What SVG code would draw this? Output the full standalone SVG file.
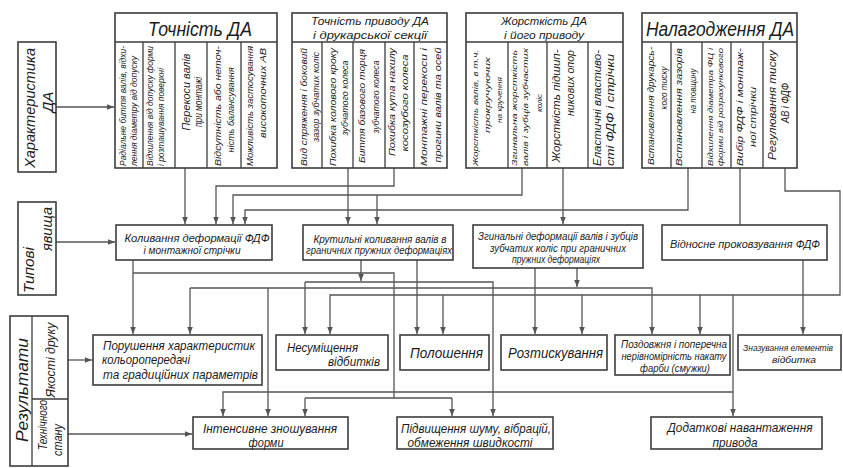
<svg xmlns="http://www.w3.org/2000/svg" width="843" height="468" viewBox="0 0 843 468">
<style>
.box{fill:#fff;stroke:#3c3c3c;stroke-width:1.6}
.sep{fill:none;stroke:#3c3c3c;stroke-width:1.3}
.ln{fill:none;stroke:#555;stroke-width:1.3}
.a{marker-end:url(#ar)}
text{font-family:"Liberation Sans",Arial,sans-serif;font-style:italic;fill:#1c1c1c}
.m{text-anchor:middle}
.v{text-anchor:middle}
.s8{font-size:8.5px}
.s9{font-size:9.5px}
.s10{font-size:10px}
.s11{font-size:11px}
.s13{font-size:13px}
.s14{font-size:14px}
</style>
<defs>
<marker id="ar" markerWidth="8" markerHeight="8" refX="7" refY="4" orient="auto" markerUnits="userSpaceOnUse">
<path d="M0,1.2 L7,4 L0,6.8 z" fill="#555"/>
</marker>
</defs>
<rect width="843" height="468" fill="#fff"/>

<g id="connectors">
<path class="ln a" d="M56,107 H114"/>
<path class="ln a" d="M56,242 H115"/>
<path class="ln a" d="M68,360 H92"/>
<path class="ln a" d="M68,434 H192"/>
<path class="ln a" d="M185,168 V224"/>
<path class="ln a" d="M394,168 V186 H216 V224"/>
<path class="ln a" d="M522,168 V195 H233 V224"/>
<path class="ln a" d="M377,195 V224"/>
<path class="ln a" d="M688,168 V210 H245 V224"/>
<path class="ln a" d="M348,168 V224"/>
<path class="ln a" d="M563,168 V224"/>
<path class="ln" d="M740,168 V225"/>
<path class="ln a" d="M785,168 V191 H840 V295 H330 V334"/>
<path class="ln a" d="M443,295 V334"/>
<path class="ln a" d="M582,295 V334"/>
<path class="ln a" d="M700,295 V334"/>
<path class="ln a" d="M733,295 V416"/>
<path class="ln a" d="M733,392 H223 V416"/>
<path class="ln a" d="M133,260 V334"/>
<path class="ln" d="M133,273 H394 V398"/>
<path class="ln" d="M305,398 H452"/>
<path class="ln a" d="M305,398 V416"/>
<path class="ln a" d="M452,398 V416"/>
<path class="ln a" d="M361,260 V281"/>
<path class="ln a" d="M305,282 H493 V416"/>
<path class="ln a" d="M305,282 V334"/>
<path class="ln a" d="M417,260 V334"/>
<path class="ln a" d="M577,268 V287"/>
<path class="ln a" d="M190,288 H652 V334"/>
<path class="ln a" d="M190,288 V334"/>
<path class="ln a" d="M268,288 V416"/>
<path class="ln a" d="M535,268 V334"/>
<path class="ln a" d="M803,260 V334"/>
</g>

<g id="label-characteristic">
<rect class="box" x="18" y="42" width="38" height="130"/>
<text class="v" font-size="15" transform="translate(35,108) rotate(-90)" textLength="120" lengthAdjust="spacingAndGlyphs">Характеристика</text>
<text class="v" font-size="15" transform="translate(53,102) rotate(-90)">ДА</text>
</g>

<g id="label-phenomena">
<rect class="box" x="18" y="202" width="38" height="93"/>
<text class="v" font-size="14" transform="translate(34,270) rotate(-90)" textLength="46" lengthAdjust="spacingAndGlyphs">Типові</text>
<text class="v" font-size="14" transform="translate(52,229) rotate(-90)" textLength="44" lengthAdjust="spacingAndGlyphs">явища</text>
</g>

<g id="label-results">
<rect class="box" x="10" y="316" width="58" height="150"/>
<path class="sep" d="M32,316 V466 M32,399 H68"/>
<text class="v" font-size="17" transform="translate(28,390) rotate(-90)" textLength="104" lengthAdjust="spacingAndGlyphs">Результати</text>
<text class="v" font-size="12" transform="translate(55,360) rotate(-90)" textLength="75" lengthAdjust="spacingAndGlyphs">Якості друку</text>
<text class="v" font-size="12.5" transform="translate(47,425) rotate(-90)" textLength="50" lengthAdjust="spacingAndGlyphs">Технічного</text>
<text class="v" font-size="12.5" transform="translate(62,440) rotate(-90)" textLength="32" lengthAdjust="spacingAndGlyphs">стану</text>
</g>

<g id="accuracy-da">
<rect class="box" x="115" y="13" width="162" height="155"/>
<path class="sep" d="M115,42 H277 M143,42 V168 M175,42 V168 M207,42 V168 M241,42 V168"/>
<text class="m" x="200" y="36" font-size="20" textLength="104" lengthAdjust="spacingAndGlyphs">Точність ДА</text>
<text class="v s8" transform="translate(126,106) rotate(-90)" textLength="120" lengthAdjust="spacingAndGlyphs">Радіальне биття валів, відхи-</text>
<text class="v s8" transform="translate(137,111) rotate(-90)" textLength="110" lengthAdjust="spacingAndGlyphs">лення діаметру від допуску</text>
<text class="v s8" transform="translate(153,106) rotate(-90)" textLength="120" lengthAdjust="spacingAndGlyphs">Відхилення від допуску форми</text>
<text class="v s8" transform="translate(164,117) rotate(-90)" textLength="98" lengthAdjust="spacingAndGlyphs">і розташування поверхні</text>
<text class="v s10" transform="translate(190,92) rotate(-90)" textLength="77" lengthAdjust="spacingAndGlyphs">Перекоси валів</text>
<text class="v s10" transform="translate(202,102) rotate(-90)" textLength="50" lengthAdjust="spacingAndGlyphs">при монтажі</text>
<text class="v s9" transform="translate(221,106) rotate(-90)" textLength="120" lengthAdjust="spacingAndGlyphs">Відсутність або неточ-</text>
<text class="v s9" transform="translate(234,110) rotate(-90)" textLength="85" lengthAdjust="spacingAndGlyphs">ність балансування</text>
<text class="v s9" transform="translate(253,106) rotate(-90)" textLength="120" lengthAdjust="spacingAndGlyphs">Можливість застосування</text>
<text class="v s9" transform="translate(266,93) rotate(-90)" textLength="90" lengthAdjust="spacingAndGlyphs">високоточних АВ</text>
</g>

<g id="accuracy-drive">
<rect class="box" x="292" y="13" width="155" height="155"/>
<path class="sep" d="M292,42 H447 M322,42 V168 M353,42 V168 M385,42 V168 M414,42 V168"/>
<text class="m" x="370" y="25" font-size="11.5" textLength="118" lengthAdjust="spacingAndGlyphs">Точність приводу ДА</text>
<text class="m" x="370" y="38.5" font-size="11.5" textLength="114" lengthAdjust="spacingAndGlyphs">і друкарської секції</text>
<text class="v s9" transform="translate(307,107) rotate(-90)" textLength="118" lengthAdjust="spacingAndGlyphs">Вид спряження і боковий</text>
<text class="v s9" transform="translate(319,97) rotate(-90)" textLength="90" lengthAdjust="spacingAndGlyphs">зазор зубчатих коліс</text>
<text class="v s9" transform="translate(336,107) rotate(-90)" textLength="118" lengthAdjust="spacingAndGlyphs">Похибка колового кроку</text>
<text class="v s9" transform="translate(348,98) rotate(-90)" textLength="75" lengthAdjust="spacingAndGlyphs">зубчатого колеса</text>
<text class="v s9" transform="translate(365,106) rotate(-90)" textLength="114" lengthAdjust="spacingAndGlyphs">Биття базового торця</text>
<text class="v s9" transform="translate(379,97) rotate(-90)" textLength="73" lengthAdjust="spacingAndGlyphs">зубчатого колеса</text>
<text class="v s9" transform="translate(395,102) rotate(-90)" textLength="108" lengthAdjust="spacingAndGlyphs">Похибка кута нахилу</text>
<text class="v s9" transform="translate(408,103) rotate(-90)" textLength="97" lengthAdjust="spacingAndGlyphs">косозубого колеса</text>
<text class="v s9" transform="translate(427,107) rotate(-90)" textLength="118" lengthAdjust="spacingAndGlyphs">Монтажні перекоси і</text>
<text class="v s9" transform="translate(441,105) rotate(-90)" textLength="115" lengthAdjust="spacingAndGlyphs">прогини валів та осей</text>
</g>

<g id="stiffness">
<rect class="box" x="466" y="13" width="157" height="155"/>
<path class="sep" d="M466,42 H623 M508,42 V168 M547,42 V168 M588,42 V168"/>
<text class="m" x="544" y="25" font-size="11.5" textLength="86" lengthAdjust="spacingAndGlyphs">Жорсткість ДА</text>
<text class="m" x="544" y="38.5" font-size="11.5" textLength="80" lengthAdjust="spacingAndGlyphs">і його приводу</text>
<text class="v" font-size="8" transform="translate(478,108) rotate(-90)" textLength="116" lengthAdjust="spacingAndGlyphs">Жорсткість валів, в т.ч.</text>
<text class="v" font-size="8" transform="translate(490,95) rotate(-90)" textLength="76" lengthAdjust="spacingAndGlyphs">прокручуючих</text>
<text class="v" font-size="8" transform="translate(502,100) rotate(-90)" textLength="46" lengthAdjust="spacingAndGlyphs">на кручення</text>
<text class="v" font-size="8" transform="translate(517,108) rotate(-90)" textLength="116" lengthAdjust="spacingAndGlyphs">Згинальна жорсткість</text>
<text class="v" font-size="8" transform="translate(528,107) rotate(-90)" textLength="118" lengthAdjust="spacingAndGlyphs">валів і зубців зубчастих</text>
<text class="v" font-size="8" transform="translate(542,103) rotate(-90)" textLength="18" lengthAdjust="spacingAndGlyphs">коліс</text>
<text class="v s11" transform="translate(560,106) rotate(-90)" textLength="113" lengthAdjust="spacingAndGlyphs">Жорсткість підшип-</text>
<text class="v s11" transform="translate(574,83) rotate(-90)" textLength="66" lengthAdjust="spacingAndGlyphs">никових опор</text>
<text class="v s10" transform="translate(601,108) rotate(-90)" textLength="116" lengthAdjust="spacingAndGlyphs">Еластичні властиво-</text>
<text class="v s10" transform="translate(614,110) rotate(-90)" textLength="112" lengthAdjust="spacingAndGlyphs">сті ФДФ і стрічки</text>
</g>

<g id="adjustment">
<rect class="box" x="642" y="13" width="155" height="155"/>
<path class="sep" d="M642,42 H797 M671,42 V168 M702,42 V168 M731,42 V168 M763,42 V168"/>
<text class="m" x="720" y="36" font-size="20" textLength="148" lengthAdjust="spacingAndGlyphs">Налагодження ДА</text>
<text class="v s9" transform="translate(654,106) rotate(-90)" textLength="118" lengthAdjust="spacingAndGlyphs">Встановлення друкарсь-</text>
<text class="v s9" transform="translate(667,88) rotate(-90)" textLength="43" lengthAdjust="spacingAndGlyphs">кого тиску</text>
<text class="v s9" transform="translate(682,107) rotate(-90)" textLength="118" lengthAdjust="spacingAndGlyphs">Встановлення зазорів</text>
<text class="v s9" transform="translate(696,91) rotate(-90)" textLength="45" lengthAdjust="spacingAndGlyphs">на товщину</text>
<text class="v" font-size="8" transform="translate(713,107) rotate(-90)" textLength="118" lengthAdjust="spacingAndGlyphs">Відхилення діаметра ФЦ і</text>
<text class="v" font-size="8" transform="translate(723,107) rotate(-90)" textLength="118" lengthAdjust="spacingAndGlyphs">форми від розрахункового</text>
<text class="v s9" transform="translate(743,107) rotate(-90)" textLength="118" lengthAdjust="spacingAndGlyphs">Вибір ФДФ і монтаж-</text>
<text class="v s9" transform="translate(756,117) rotate(-90)" textLength="60" lengthAdjust="spacingAndGlyphs">ної стрічки</text>
<text class="v s10" transform="translate(776,105) rotate(-90)" textLength="110" lengthAdjust="spacingAndGlyphs">Регулювання тиску</text>
<text class="v s10" transform="translate(789,103) rotate(-90)" textLength="40" lengthAdjust="spacingAndGlyphs">АВ і ФДФ</text>
</g>

<g id="oscillation">
<rect class="box" x="116" y="225" width="156" height="35"/>
<text class="m s11" x="197" y="242" textLength="145" lengthAdjust="spacingAndGlyphs">Коливання деформації ФДФ</text>
<text class="m s11" x="192" y="254" textLength="97" lengthAdjust="spacingAndGlyphs">і монтажної стрічки</text>
</g>

<g id="torsional">
<rect class="box" x="303" y="225" width="150" height="35"/>
<text class="m s10" x="380" y="243" textLength="133" lengthAdjust="spacingAndGlyphs">Крутильні коливання валів в</text>
<text class="m s10" x="379" y="254" textLength="146" lengthAdjust="spacingAndGlyphs">граничних пружних деформаціях</text>
</g>

<g id="bending">
<rect class="box" x="473" y="225" width="170" height="43"/>
<text class="m s10" x="558" y="240" textLength="160" lengthAdjust="spacingAndGlyphs">Згинальні деформації валів і зубців</text>
<text class="m s10" x="558" y="252" textLength="136" lengthAdjust="spacingAndGlyphs">зубчатих коліс при граничних</text>
<text class="m s10" x="556" y="263" textLength="88" lengthAdjust="spacingAndGlyphs">пружних деформаціях</text>
</g>

<g id="slip">
<rect class="box" x="662" y="225" width="165" height="35"/>
<text class="m s11" x="745" y="248" textLength="150" lengthAdjust="spacingAndGlyphs">Відносне проковзування ФДФ</text>
</g>

<g id="color-violation">
<rect class="box" x="93" y="335" width="169" height="50"/>
<text class="s13" x="103" y="350" textLength="152" lengthAdjust="spacingAndGlyphs">Порушення характеристик</text>
<text class="s13" x="102" y="364" textLength="88" lengthAdjust="spacingAndGlyphs">кольоропередачі</text>
<text class="s13" x="103" y="379" textLength="155" lengthAdjust="spacingAndGlyphs">та градиційних параметрів</text>
</g>

<g id="misregister">
<rect class="box" x="276" y="335" width="112" height="35"/>
<text class="s13" x="287" y="352" textLength="71" lengthAdjust="spacingAndGlyphs">Несуміщення</text>
<text class="s13" x="328" y="366" textLength="52" lengthAdjust="spacingAndGlyphs">відбитків</text>
</g>

<g id="banding">
<rect class="box" x="400" y="335" width="89" height="35"/>
<text class="s14" x="410" y="358" textLength="73" lengthAdjust="spacingAndGlyphs">Полошення</text>
</g>

<g id="slur">
<rect class="box" x="501" y="335" width="106" height="35"/>
<text class="s14" x="508" y="358" textLength="95" lengthAdjust="spacingAndGlyphs">Розтискування</text>
</g>

<g id="ink-unevenness">
<rect class="box" x="615" y="335" width="115" height="40"/>
<text class="m s10" x="674" y="348" textLength="106" lengthAdjust="spacingAndGlyphs">Поздовжня і поперечна</text>
<text class="m s10" x="674" y="360" textLength="105" lengthAdjust="spacingAndGlyphs">нерівномірність накату</text>
<text class="m s10" x="675" y="372" textLength="70" lengthAdjust="spacingAndGlyphs">фарби (смужки)</text>
</g>

<g id="distortion">
<rect class="box" x="738" y="335" width="103" height="35"/>
<text x="743" y="351" font-size="9" textLength="90" lengthAdjust="spacingAndGlyphs">Зназування елементів</text>
<text x="772" y="363" font-size="9.5" textLength="44" lengthAdjust="spacingAndGlyphs">відбитка</text>
</g>

<g id="plate-wear">
<rect class="box" x="193" y="417" width="155" height="32"/>
<text class="m s13" x="270" y="433" textLength="134" lengthAdjust="spacingAndGlyphs">Інтенсивне зношування</text>
<text class="m s13" x="266" y="447" textLength="35" lengthAdjust="spacingAndGlyphs">форми</text>
</g>

<g id="noise">
<rect class="box" x="397" y="417" width="156" height="32"/>
<text class="m s13" x="476" y="433" textLength="150" lengthAdjust="spacingAndGlyphs">Підвищення шуму, вібрацій,</text>
<text class="m s13" x="470" y="447" textLength="125" lengthAdjust="spacingAndGlyphs">обмеження швидкості</text>
</g>

<g id="drive-load">
<rect class="box" x="651" y="417" width="171" height="32"/>
<text class="m s13" x="740" y="432" textLength="145" lengthAdjust="spacingAndGlyphs">Додаткові навантаження</text>
<text class="m s13" x="735" y="447" textLength="45" lengthAdjust="spacingAndGlyphs">привода</text>
</g>
</svg>
